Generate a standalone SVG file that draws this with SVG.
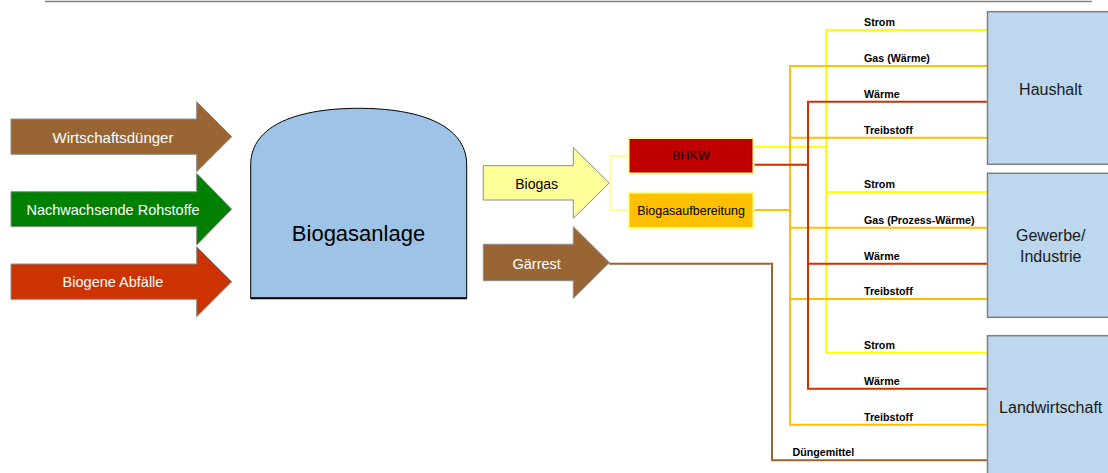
<svg xmlns="http://www.w3.org/2000/svg" width="1108" height="473" viewBox="0 0 1108 473">
<style>
.arr{stroke:#8c8c8c;stroke-width:1}
.wt{font-family:"Liberation Sans",Arial,sans-serif;font-size:14.5px;fill:#ffffff;text-anchor:middle;dominant-baseline:central}
.bt{font-family:"Liberation Sans",Arial,sans-serif;font-size:14px;fill:#000000;text-anchor:middle;dominant-baseline:central}
.box{fill:#bdd7ee;stroke:#7f7f7f;stroke-width:1.5}
.bx{font-family:"Liberation Sans",Arial,sans-serif;font-size:16px;fill:#1a1a1a;text-anchor:middle;dominant-baseline:central}
.lbl{font-family:"Liberation Sans",Arial,sans-serif;font-size:10.7px;font-weight:bold;fill:#000000}
.c{fill:none;stroke-width:2}
.y{stroke:#ffff00}.o{stroke:#ffc000}.r{stroke:#cc3300}.b{stroke:#996633}.ly{stroke:#ffff99}
</style>
<line x1="45" y1="1.5" x2="1092" y2="1.5" stroke="#808080" stroke-width="1.5"/>

<g id="connectors">
  <path class="c ly" d="M628,156 H610.5 V210 H628"/>
  <path class="c y" d="M754,146.7 H826 M987,30 H826 V352.7 H987 M826,192 H987"/>
  <path class="c o" d="M754,210 H790 M987,66 H790 V424.7 H987 M790,137.7 H987 M790,227.7 H987 M790,299 H987"/>
  <path class="c r" d="M754,164.7 H808 M987,101.7 H808 V388.7 H987 M808,263.7 H987"/>
  <path class="c b" d="M609,263.7 H772 V460.3 H987"/>
</g>

<g id="labels">
  <text class="lbl" x="864" y="26">Strom</text>
  <text class="lbl" x="864" y="62">Gas (Wärme)</text>
  <text class="lbl" x="864" y="97.5">Wärme</text>
  <text class="lbl" x="864" y="133.5">Treibstoff</text>
  <text class="lbl" x="864" y="188">Strom</text>
  <text class="lbl" x="864" y="223.5">Gas (Prozess-Wärme)</text>
  <text class="lbl" x="864" y="259.5">Wärme</text>
  <text class="lbl" x="864" y="295">Treibstoff</text>
  <text class="lbl" x="864" y="348.5">Strom</text>
  <text class="lbl" x="864" y="384.5">Wärme</text>
  <text class="lbl" x="864" y="420.5">Treibstoff</text>
  <text class="lbl" x="792.5" y="456">Düngemittel</text>
</g>

<g id="wirtschaftsduenger">
  <path class="arr" fill="#996633" d="M11,119 H196.7 V101.7 L231.7,136.7 L196.7,171.7 V154.3 H11 Z"/>
  <text class="wt" x="113" y="137.5" style="font-size:15px">Wirtschaftsdünger</text>
</g>
<g id="nachwachsende">
  <path class="arr" fill="#008000" d="M11,191.7 H196.7 V173.3 L231.7,209.2 L196.7,245 V226.7 H11 Z"/>
  <text class="wt" x="113" y="209.5">Nachwachsende Rohstoffe</text>
</g>
<g id="biogene">
  <path class="arr" fill="#cc3300" d="M11,264 H196.7 V246.7 L231.7,281.7 L196.7,316.7 V299.3 H11 Z"/>
  <text class="wt" x="113" y="282">Biogene Abfälle</text>
</g>

<g id="biogasanlage">
  <path d="M250.7,298.3 V165 C250.7,124 300,108.3 358.7,108.3 C417.4,108.3 466.7,124 466.7,165 V298.3 Z" fill="#9dc3e6" stroke="#000000" stroke-width="1"/>
  <line x1="250.7" y1="298.3" x2="466.7" y2="298.3" stroke="#000" stroke-width="2"/>
  <text class="bx" x="358.5" y="233" style="font-size:22px;fill:#000">Biogasanlage</text>
</g>

<g id="biogas">
  <path class="arr" fill="#ffff99" d="M483.3,165.7 H573.3 V147.7 L609.3,183 L573.3,218.3 V200 H483.3 Z"/>
  <text class="bt" x="536.7" y="183.5">Biogas</text>
</g>
<g id="gaerrest">
  <path class="arr" fill="#996633" d="M483.3,244.3 H573.3 V226.7 L609.3,262.5 L573.3,298.3 V280.7 H483.3 Z"/>
  <text class="wt" x="536.7" y="263.5">Gärrest</text>
</g>

<g id="bhkw">
  <rect x="628.5" y="138" width="125" height="35.5" fill="#c00000" stroke="#ffff99" stroke-width="2"/>
  <text class="bt" x="691" y="156" style="font-size:12.5px">BHKW</text>
</g>
<g id="biogasaufbereitung">
  <rect x="628.5" y="192.5" width="125" height="35.5" fill="#ffc000" stroke="#ffff99" stroke-width="2"/>
  <text class="bt" x="691" y="210.5" style="font-size:12.5px">Biogasaufbereitung</text>
</g>

<g id="haushalt">
  <rect class="box" x="987.5" y="11.7" width="130" height="152.6"/>
  <text class="bx" x="1050.7" y="89">Haushalt</text>
</g>
<g id="gewerbe">
  <rect class="box" x="987.5" y="173.3" width="130" height="144"/>
  <text class="bx" x="1050.7" y="235">Gewerbe/</text>
  <text class="bx" x="1050.7" y="256.5">Industrie</text>
</g>
<g id="landwirtschaft">
  <rect class="box" x="987.5" y="335.7" width="130" height="150"/>
  <text class="bx" x="1050.7" y="407.5">Landwirtschaft</text>
</g>
</svg>
